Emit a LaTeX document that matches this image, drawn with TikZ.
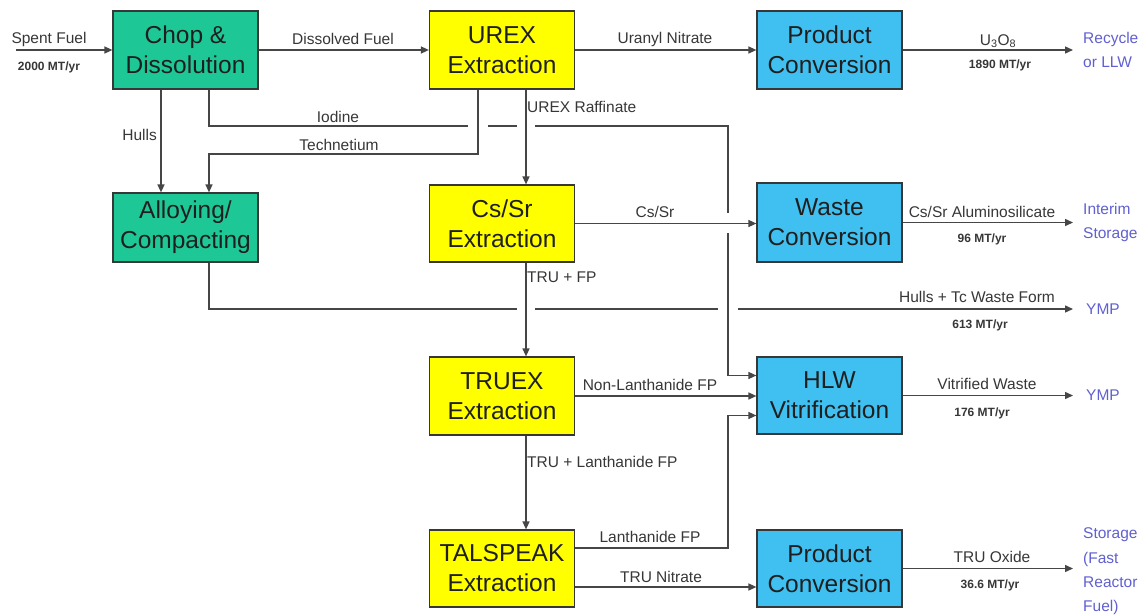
\documentclass[tikz,border=0pt]{standalone}
\usepackage{fontspec}
\setmainfont{Liberation Sans}
\usetikzlibrary{arrows.meta}
\definecolor{boxgreen}{RGB}{30,200,150}
\definecolor{boxyellow}{RGB}{255,255,0}
\definecolor{boxblue}{RGB}{64,192,240}
\definecolor{boxborder}{RGB}{55,55,55}
\definecolor{linegray}{RGB}{70,70,70}
\definecolor{labgray}{RGB}{55,55,55}
\definecolor{destblue}{RGB}{96,96,210}
\begin{document}
\begin{tikzpicture}[x=1pt,y=-1pt,
  box/.style={draw=boxborder, line width=1.2pt, minimum width=145pt, minimum height=78pt,
    align=center, font=\fontsize{24.5}{30}\selectfont, text=black!88, inner sep=0pt},
  gbox/.style={box, fill=boxgreen},
  ybox/.style={box, fill=boxyellow},
  bbox/.style={box, fill=boxblue},
  conn/.style={draw=linegray, line width=1.4pt},
  arr/.style={conn, -{Triangle[length=8pt,width=7pt]}},
  lab/.style={font=\fontsize{15.5}{18}\selectfont, text=labgray, inner sep=0pt},
  qty/.style={font=\fontsize{12}{14}\selectfont\bfseries, text=labgray, inner sep=0pt},
  dest/.style={font=\fontsize{15.5}{24.5}\selectfont, text=destblue, align=left, anchor=west, inner sep=0pt},
  gapw/.style={draw=white, line width=5pt}
]
\useasboundingbox[fill=white] (0,0) rectangle (1143,615);

% boxes
\node[gbox] (chop) at (185.5,50) {Chop \&\\Dissolution};
\node[ybox] (urex) at (502,50) {UREX\\Extraction};
\node[bbox] (prodA) at (829.5,50) {Product\\Conversion};
\node[gbox, minimum height=69pt] (alloy) at (185.5,227.5) {Alloying/\\Compacting};
\node[ybox, minimum height=77pt] (cssr) at (502,223.5) {Cs/Sr\\Extraction};
\node[bbox, minimum height=79pt] (waste) at (829.5,222.5) {Waste\\Conversion};
\node[ybox] (truex) at (502,396) {TRUEX\\Extraction};
\node[bbox, minimum height=77pt] (hlw) at (829.5,395.5) {HLW\\Vitrification};
\node[ybox, minimum height=77pt] (tal) at (502,568.5) {TALSPEAK\\Extraction};
\node[bbox, minimum height=77pt] (prodB) at (829.5,568.5) {Product\\Conversion};

% free ends and bends
\coordinate (sf) at (16,50);
\coordinate (outA) at (1073,50);
\coordinate (outW) at (1073,222.5);
\coordinate (outH) at (1073,309);
\coordinate (outV) at (1073,395.5);
\coordinate (outP) at (1073,568.5);
\coordinate (iodA) at (209,126);
\coordinate (iodB) at (728,126);
\coordinate (iodC) at (728,375.5);
\coordinate (tcA) at (478,154);
\coordinate (tcB) at (209,154);
\coordinate (htA) at (209,309);
\coordinate (lanA) at (728,548);
\coordinate (lanB) at (728,415.5);

% Hulls + Tc waste form line (with gaps)
\draw[arr] ([xshift=23.5pt]alloy.south) -- (htA) -- (outH);
\draw[gapw] (517,309) -- (535,309);
\draw[gapw] (718,309) -- (738,309);

% Iodine line (with gaps)
\draw[arr] ([xshift=23.5pt]chop.south) -- (iodA) -- (iodB) -- (iodC) -- ([yshift=20pt]hlw.west);
\draw[gapw] (468,126) -- (488,126);
\draw[gapw] (517,126) -- (535,126);
\draw[gapw] (728,213) -- (728,233);

% main connectors
\draw[arr] (sf) -- (chop.west);
\draw[arr] (chop.east) -- (urex.west);
\draw[arr] (urex.east) -- (prodA.west);
\draw[arr] (prodA.east) -- (outA);
\draw[arr] ([xshift=-24.5pt]chop.south) -- ([xshift=-24.5pt]alloy.north);
\draw[arr] ([xshift=-24pt]urex.south) -- (tcA) -- (tcB) -- ([xshift=23.5pt]alloy.north);
\draw[arr] ([xshift=24pt]urex.south) -- ([xshift=24pt]cssr.north);
\draw[arr] (cssr.east) -- (cssr.east -| waste.west);
\draw[arr] (waste.east) -- (outW);
\draw[arr] ([xshift=24pt]cssr.south) -- ([xshift=24pt]truex.north);
\draw[arr] (truex.east) -- (truex.east -| hlw.west);
\draw[arr] (hlw.east) -- (outV);
\draw[arr] ([xshift=24pt]truex.south) -- ([xshift=24pt]tal.north);
\draw[arr] ([yshift=20.5pt]tal.east) -- (lanA) -- (lanB) -- ([yshift=-20pt]hlw.west);
\draw[arr] ([yshift=-18.5pt]tal.east) -- ([yshift=-18.5pt]prodB.west);
\draw[arr] (prodB.east) -- (outP);

% labels
\node[lab] (lsf) at (49,39) {Spent Fuel};
\node[qty] (qsf) at (49,67) {2000 MT/yr};
\node[lab] (ldf) at (343,39) {Dissolved Fuel};
\node[lab] (lun) at (665,39) {Uranyl Nitrate};
\node[lab] (luo) at (998,41) {U\textsubscript{3}O\textsubscript{8}};
\node[qty] (qua) at (1000,65) {1890 MT/yr};
\node[lab, anchor=east] (lhu) at (157,135) {Hulls};
\node[lab] (lio) at (338,117) {Iodine};
\node[lab] (ltc) at (339,145) {Technetium};
\node[lab, anchor=west] (lur) at (527,107) {UREX Raffinate};
\node[lab] (lcs) at (655,212) {Cs/Sr};
\node[lab] (lal) at (982,212) {Cs/Sr Aluminosilicate};
\node[qty] (qal) at (982,239) {96 MT/yr};
\node[lab, anchor=west] (ltf) at (527,277) {TRU + FP};
\node[lab] (lht) at (977,297) {Hulls + Tc Waste Form};
\node[qty] (qht) at (980,325) {613 MT/yr};
\node[lab] (lnl) at (650,385) {Non-Lanthanide FP};
\node[lab] (lvw) at (987,384) {Vitrified Waste};
\node[qty] (qvw) at (982,413) {176 MT/yr};
\node[lab, anchor=west] (ltl) at (527,462) {TRU + Lanthanide FP};
\node[lab] (llf) at (650,537) {Lanthanide FP};
\node[lab] (ltn) at (661,577) {TRU Nitrate};
\node[lab] (lto) at (992,557) {TRU Oxide};
\node[qty] (qto) at (990,585) {36.6 MT/yr};

% destinations
\node[dest] (dA) at (1083,50) {Recycle\\or LLW};
\node[dest] (dW) at (1083,222.5) {Interim\\Storage};
\node[dest] (dH) at (1086,309) {YMP};
\node[dest] (dV) at (1086,395.5) {YMP};
\node[dest, font=\fontsize{15.5}{24.3}\selectfont] (dP) at (1083,571.5) {Storage\\(Fast\\Reactor\\Fuel)};
\end{tikzpicture}
\end{document}
